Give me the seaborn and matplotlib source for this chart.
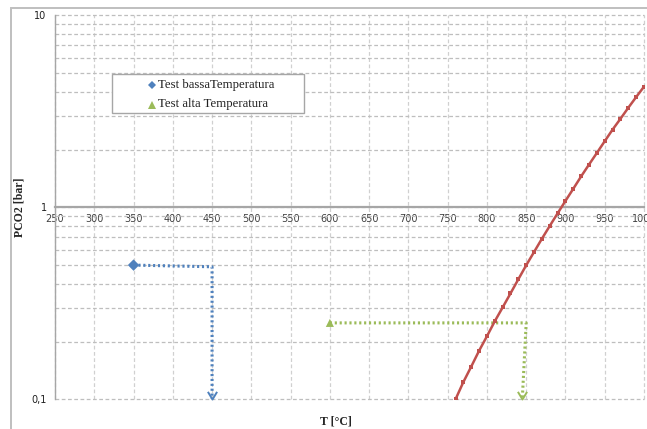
import matplotlib
matplotlib.use("Agg")
import matplotlib.pyplot as plt
from matplotlib.patches import Rectangle
from matplotlib.path import Path
from matplotlib.ticker import FixedLocator, NullFormatter
import seaborn as sns
import pandas as pd

# equilibrium curve
curve_T = [760, 770, 780, 790, 800, 810, 820, 830, 840, 850, 860, 870, 880, 890,
           900, 910, 920, 930, 940, 950, 960, 970, 980, 990, 1000]
curve_P = [0.100, 0.123, 0.148, 0.179, 0.213, 0.255, 0.301, 0.356, 0.422, 0.499,
           0.585, 0.686, 0.80, 0.93, 1.08, 1.25, 1.45, 1.67, 1.92, 2.21,
           2.54, 2.89, 3.30, 3.75, 4.25]

# test points
test_labels = ["Test bassaTemperatura", "Test alta Temperatura"]
test_T = [350, 600]
test_P = [0.5, 0.25]

# dotted guide paths (start -> corner -> end on 0.1)
low_path_T = [350, 450, 450]
low_path_P = [0.5, 0.49, 0.1]
high_path_T = [600, 850, 845]
high_path_P = [0.25, 0.25, 0.1]

x_ticks = list(range(250, 1001, 50))
y_ticks = [0.1, 1, 10]
y_tick_labels = ["0,1", "1", "10"]

blue = "#4F81BD"
green = "#9BBB59"
red = "#C0504D"
grid_c = "#BEBEBE"

sns.set_style("white")
plt.rcParams['font.family'] = ['DejaVu Sans']

W, H = 647, 429
fig = plt.figure(figsize=(W / 100, H / 100), dpi=100)
ax = fig.add_axes([55 / W, 1 - 399.3 / H, 589 / W, 384 / H])

ax.set_yscale("log")
ax.set_xlim(250, 1000)
ax.set_ylim(0.1, 10)

# grid
ax.set_xticks(x_ticks)
ax.set_yticks(y_ticks)
ax.yaxis.set_minor_locator(FixedLocator([m * d for d in (0.1, 1) for m in range(2, 10)]))
ax.yaxis.set_minor_formatter(NullFormatter())
ax.grid(True, which="both", axis="y", color=grid_c, linestyle=(0, (3, 2)), linewidth=0.9)
ax.grid(True, which="major", axis="x", color="#D0D0D0", linestyle=(0, (3, 2)), linewidth=0.9)

# curve
df_curve = pd.DataFrame({"T": curve_T, "P": curve_P})
sns.lineplot(data=df_curve, x="T", y="P", ax=ax, color=red, linewidth=1.8,
             marker="s", markersize=3.2, markeredgewidth=0, zorder=5)

# guide paths
vhead = Path([(-0.6, 1.0), (0, 0), (0.6, 1.0)], [Path.MOVETO, Path.LINETO, Path.LINETO])
for pt, pp, c in [(low_path_T, low_path_P, blue), (high_path_T, high_path_P, green)]:
    ax.plot(pt, pp, color=c, linestyle=(0, (0.7, 0.9)), linewidth=2.2, zorder=4,
            solid_capstyle="butt", dash_capstyle="butt")
    ax.plot([pt[-1]], [pp[-1]], marker=vhead, markersize=11, markerfacecolor="none",
            markeredgecolor=c, markeredgewidth=1.4, linestyle="none", zorder=4, clip_on=False)

# test points
df_test = pd.DataFrame({"T": test_T, "P": test_P, "Test": test_labels})
sns.scatterplot(data=df_test, x="T", y="P", hue="Test", style="Test",
                palette=[blue, green], markers=["D", "^"], s=34,
                edgecolor="none", ax=ax, zorder=6, legend=False)

# axes styling
for s in ["top", "right"]:
    ax.spines[s].set_visible(False)
ax.spines["bottom"].set_position(("data", 1))
ax.spines["bottom"].set_color("#A6A6A6")
ax.spines["bottom"].set_linewidth(1.6)
ax.spines["left"].set_color("#A6A6A6")
ax.spines["left"].set_linewidth(1.0)
ax.spines["bottom"].set_zorder(3)

ax.set_yticklabels(y_tick_labels)
ax.tick_params(axis="x", which="major", direction="inout", length=4, color="#A6A6A6",
               labelsize=7, pad=3, labelcolor="#404040")
ax.tick_params(axis="y", which="major", direction="inout", length=6, color="#A6A6A6",
               labelsize=7, pad=3, labelcolor="#202020")
ax.tick_params(axis="y", which="minor", direction="out", length=2.5, color="#A6A6A6")
for lbl in ax.get_xticklabels():
    lbl.set_clip_on(False)
for t in ax.xaxis.get_major_ticks() + ax.yaxis.get_major_ticks() + ax.yaxis.get_minor_ticks():
    t.gridline.set_clip_on(False)

ax.set_xlabel("")
ax.set_ylabel("")
fig.text(336 / W, 1 - 421 / H, "T [°C]", fontsize=8.5, fontweight="bold",
         family="Liberation Serif", ha="center", va="center")
fig.text(20 / W, 1 - 207 / H, "PCO2 [bar]", fontsize=8.5, fontweight="bold",
         family="Liberation Serif", ha="center", va="center", rotation=90)

# legend box and entries
fig.patches.append(Rectangle((112 / W, 1 - 113 / H), 192 / W, 39 / H,
                             transform=fig.transFigure, facecolor="white",
                             edgecolor="#A6A6A6", linewidth=1.0, zorder=7))
for i, (lab, c, m, ms) in enumerate(zip(test_labels, [blue, green], ["D", "^"], [4.5, 6])):
    yy = 1 - (85 + 19.5 * i) / H
    fig.add_artist(plt.Line2D([152 / W], [yy], marker=m, color=c, markersize=ms,
                              markeredgewidth=0, linestyle="none", zorder=8))
    fig.text(157.5 / W, yy, lab, fontsize=9.2, family="Liberation Serif",
             ha="left", va="center", zorder=8, color="#202020")

# chart border
fig.patches.append(Rectangle((11 / W, -0.1), 1.2, 1 - 8 / H + 0.1,
                             transform=fig.transFigure, facecolor="none",
                             edgecolor="#BFBFBF", linewidth=1.4))

fig.savefig("out.png", dpi=100)
